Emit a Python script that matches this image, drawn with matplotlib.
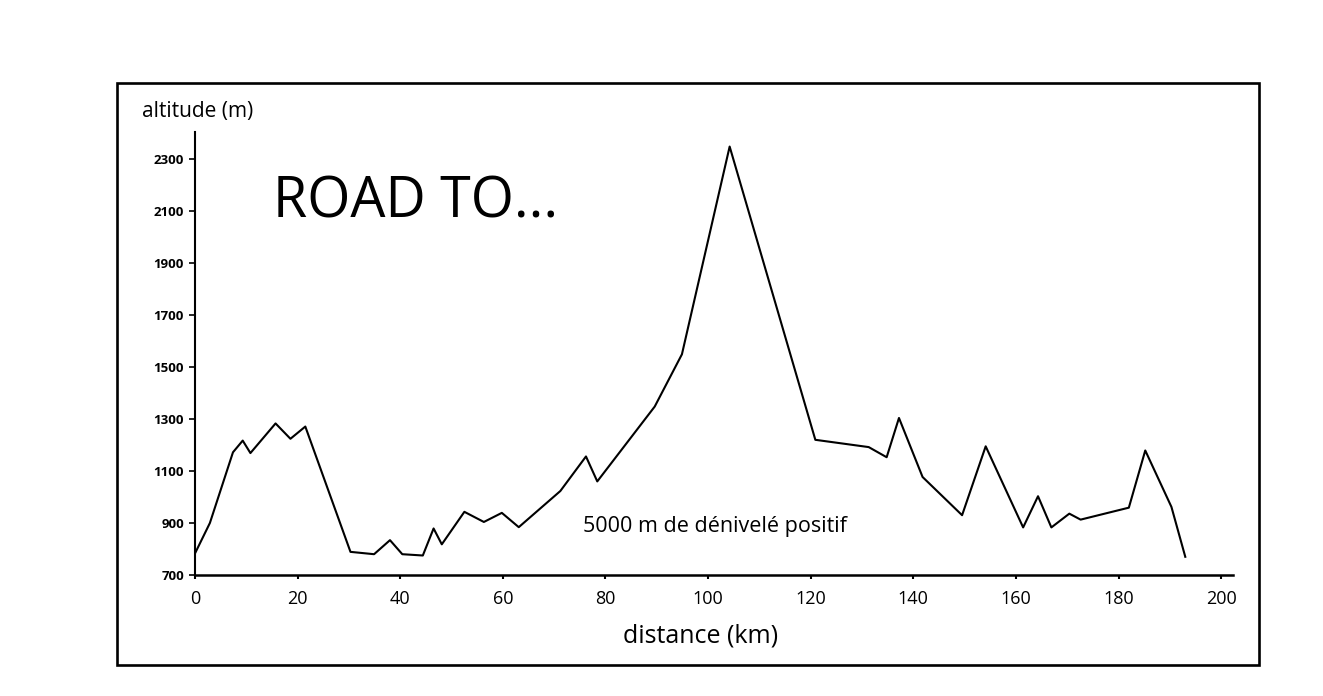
import matplotlib
matplotlib.use("Agg")
import matplotlib.pyplot as plt
from matplotlib.patches import Rectangle

# profil de l'étape
distance_km = [0, 2.9, 7.4, 9.3, 10.8, 15.7, 18.6, 21.5, 30.3, 34.9, 38.0, 40.4,
               44.4, 46.5, 48.1, 52.5, 56.3, 59.8, 63.1, 71.2, 76.2, 78.4, 89.6,
               94.9, 104.2, 120.9, 131.3, 134.8, 137.2, 141.8, 149.5, 154.1,
               161.4, 164.3, 166.9, 170.4, 172.6, 182.0, 185.2, 190.3, 193.0]
altitude_m = [783, 900, 1172, 1217, 1169, 1283, 1224, 1271, 789, 780, 834, 780,
              775, 879, 818, 943, 904, 939, 884, 1023, 1156, 1060, 1348,
              1549, 2348, 1220, 1192, 1153, 1304, 1077, 930, 1195,
              883, 1003, 883, 936, 913, 959, 1179, 962, 770]

x_ticks = list(range(0, 201, 20))
y_ticks = list(range(700, 2301, 200))

plt.rcParams['font.family'] = ['Open Sans', 'DejaVu Sans']

W, H = 1323, 696
fig = plt.figure(figsize=(W / 100, H / 100), dpi=100)
fig.patch.set_facecolor("white")

# cadre autour du graphique
fig.patches.append(Rectangle((117 / W, 1 - 665 / H), (1259 - 117) / W, (665 - 83) / H,
                             transform=fig.transFigure, fill=False,
                             edgecolor="black", linewidth=1.9))

ax = fig.add_axes([195 / W, 1 - 575 / H, (1233 - 195) / W, (575 - 132) / H])
ax.plot(distance_km, altitude_m, color="black", linewidth=1.5)

ax.set_xlim(0, 202.3)
ax.set_ylim(700, 2404)
ax.set_xticks(x_ticks)
ax.set_yticks(y_ticks)
ax.spines["top"].set_visible(False)
ax.spines["right"].set_visible(False)
ax.spines["left"].set_linewidth(1.5)
ax.spines["bottom"].set_linewidth(1.8)
ax.tick_params(axis="x", direction="out", length=3, width=1.5, pad=8, labelsize=13)
ax.tick_params(axis="y", direction="out", length=4, width=1.2, pad=4, labelsize=9.5)
for lab in ax.get_yticklabels():
    lab.set_fontweight("bold")

fig.text(142 / W, 1 - 111 / H, "altitude (m)", fontsize=15, ha="left", va="center")
fig.text(273 / W, 1 - 203 / H, "ROAD TO...", fontsize=40, ha="left", va="center")
fig.text(701 / W, 1 - 636 / H, "distance (km)", fontsize=18, ha="center", va="center")
ax.text(75.6, 888, "5000 m de dénivelé positif", fontsize=15.5, ha="left", va="center")

fig.savefig("out.png", dpi=100, facecolor="white")
